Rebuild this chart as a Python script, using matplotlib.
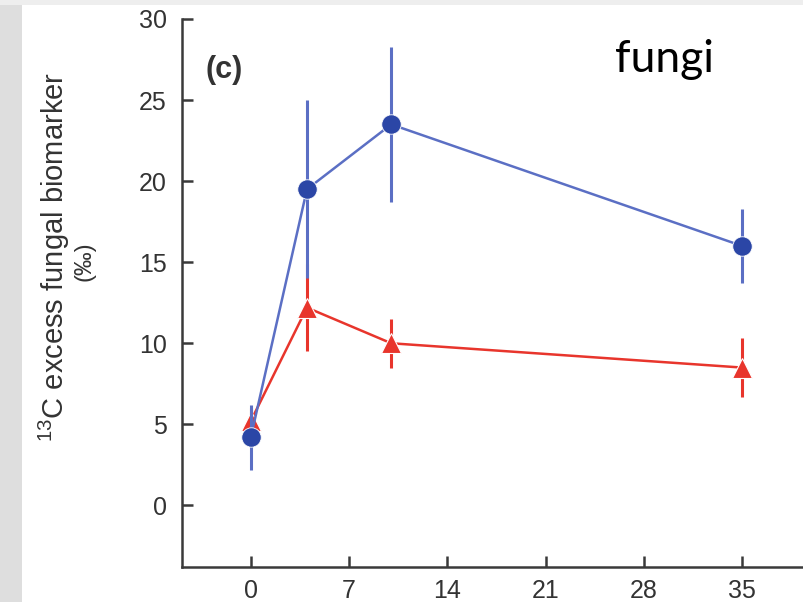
import numpy as np
import matplotlib.pyplot as plt
from matplotlib.patches import Rectangle

# data
days = [0, 4, 10, 35]
blue_mean = [4.2, 19.5, 23.5, 16.0]
blue_err = [2.0, 5.5, 4.8, 2.3]
red_mean = [5.2, 12.2, 10.0, 8.5]
red_err = [0.8, 2.7, 1.5, 1.8]
xtick_vals = [0, 7, 14, 21, 28, 35]
ytick_vals = [0, 5, 10, 15, 20, 25, 30]

plt.rcParams['font.family'] = ['Liberation Sans', 'DejaVu Sans']
plt.rcParams['mathtext.fontset'] = 'custom'
plt.rcParams['mathtext.rm'] = 'Liberation Sans'

fig = plt.figure(figsize=(8.04, 6.02), dpi=100)
fig.patch.set_facecolor('white')
# grey slide border
fig.patches.append(Rectangle((0, 0), 22/804, 1, transform=fig.transFigure,
                             facecolor='#dedede', edgecolor='none', zorder=0))
fig.patches.append(Rectangle((0, 1-5/602), 1, 5/602, transform=fig.transFigure,
                             facecolor='#eeeeee', edgecolor='none', zorder=0))

ax = fig.add_axes([182/804, 1-567/602, 1-182/804, (567-19)/602])
ax.set_facecolor('none')

blue_line = '#5b6fc4'
blue_mk = '#2b46a6'
red = '#e8352c'

ax.errorbar(days, red_mean, yerr=red_err, color=red, lw=1.8, elinewidth=2.2,
            capsize=0, marker='^', ms=15, mfc=red, mec='white', mew=0.8, zorder=3)
ax.errorbar(days, blue_mean, yerr=blue_err, color=blue_line, lw=1.8, elinewidth=2.2,
            capsize=0, marker='o', ms=14, mfc=blue_mk, mec='white', mew=0.6, zorder=4)

ax.set_xlim(-4.9, 39.4)
ax.set_ylim(-3.8, 30)
ax.set_xticks(xtick_vals)
ax.set_yticks(ytick_vals)

for s in ['top', 'right']:
    ax.spines[s].set_visible(False)
for s in ['left', 'bottom']:
    ax.spines[s].set_color('#3a3a3a')
    ax.spines[s].set_linewidth(1.8)
ax.spines['left'].set_bounds(-3.8, 30)

ax.tick_params(axis='both', direction='in', length=8, width=1.8, color='#3a3a3a',
               labelsize=18, labelcolor='#333333')
ax.tick_params(axis='y', pad=11)
ax.tick_params(axis='x', pad=9)

fig.text(54/804, 1-257/602, r'$\mathregular{^{13}}$C excess fungal biomarker', rotation=90,
         ha='center', va='center', fontsize=21, color='#333333')
fig.text(85/804, 1-261/602, '(‰)', rotation=90, ha='center', va='center',
         fontsize=17, color='#333333')

fig.text(224/804, 1-70/602, '(c)', ha='center', va='center',
         fontsize=22, fontweight='bold', color='#333333')
fig.text(664/804, 1-60/602, 'fungi', ha='center', va='center', fontsize=32,
         color='black', family=['Lato', 'DejaVu Sans'])

fig.savefig('out.png', dpi=100)
